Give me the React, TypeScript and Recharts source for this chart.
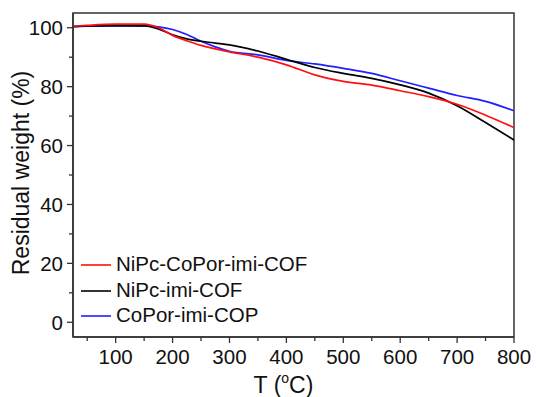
import React from 'react';
import { LineChart, Line, XAxis, YAxis, Legend, ReferenceArea, Label } from 'recharts';

const temperature = [25, 50, 100, 150, 175, 200, 225, 250, 275, 300, 350, 400, 450, 500, 550, 600, 650, 700, 750, 800];
const nipcCoporCof = [100.5, 100.8, 101.2, 101.2, 100.0, 97.4, 95.6, 94.0, 92.8, 91.8, 90.0, 87.4, 84.0, 81.8, 80.5, 78.6, 76.6, 74.0, 70.3, 66.1];
const nipcCof = [100.4, 100.6, 100.7, 100.6, 99.6, 97.6, 96.2, 95.4, 94.8, 94.2, 92.1, 89.3, 86.5, 84.5, 82.8, 80.6, 77.8, 73.5, 67.8, 61.9];
const coporCop = [100.4, 100.5, 100.6, 100.6, 100.3, 99.4, 97.7, 95.4, 93.5, 92.0, 90.8, 88.9, 87.7, 86.2, 84.5, 82.0, 79.5, 77.0, 75.0, 71.8];

const xTicks = [50, 100, 150, 200, 250, 300, 350, 400, 450, 500, 550, 600, 650, 700, 750, 800];
const yTicks = [0, 10, 20, 30, 40, 50, 60, 70, 80, 90, 100];

const series = [
  { key: 'blue', name: 'CoPor-imi-COP', color: '#1f1fff' },
  { key: 'black', name: 'NiPc-imi-COF', color: '#000000' },
  { key: 'red', name: 'NiPc-CoPor-imi-COF', color: '#ff1010' },
];
const legendOrder = ['red', 'black', 'blue'];

const data = temperature.map((t, i) => ({
  t,
  red: nipcCoporCof[i],
  black: nipcCof[i],
  blue: coporCop[i],
}));

const FONT = '"Liberation Sans", Arial, sans-serif';
const AXIS = '#333';

const XTick = (props: any) => {
  const { x, y, payload } = props;
  const major = payload.value % 100 === 0;
  return (
    <g>
      <line x1={x} y1={y} x2={x} y2={y + (major ? 6 : 4)} stroke={AXIS} strokeWidth={1.3} />
      {major && (
        <text x={x} y={y + 27} textAnchor="middle" fontSize={20.5} fontFamily={FONT} fill="#111">
          {payload.value}
        </text>
      )}
    </g>
  );
};

const YTick = (props: any) => {
  const { x, y, payload } = props;
  const major = payload.value % 20 === 0;
  return (
    <g>
      <line x1={x - (major ? 6 : 4)} y1={y} x2={x} y2={y} stroke={AXIS} strokeWidth={1.3} />
      {major && (
        <text x={x - 10} y={y + 7.4} textAnchor="end" fontSize={20.5} fontFamily={FONT} fill="#111">
          {payload.value}
        </text>
      )}
    </g>
  );
};

const XTitle = (props: any) => {
  const { x, y, width } = props.viewBox;
  return (
    <text x={x + width / 2 - 10} y={y + 56} textAnchor="middle" fontSize={23} fontFamily={FONT} fill="#111">
      <tspan>T (</tspan>
      <tspan dy={-10} fontSize={14}>o</tspan>
      <tspan dy={10}>C)</tspan>
    </text>
  );
};

const YTitle = (props: any) => {
  const { x, y, height } = props.viewBox;
  const cx = x + 8;
  const cy = y + height / 2 - 2;
  return (
    <text
      x={cx}
      y={cy}
      transform={`rotate(-90 ${cx} ${cy})`}
      textAnchor="middle"
      dominantBaseline="central"
      fontSize={23}
      fontFamily={FONT}
      fill="#111"
    >
      Residual weight (%)
    </text>
  );
};

const LegendBox = () => (
  <div style={{ fontFamily: FONT, fontSize: 20.5, color: '#111' }}>
    {legendOrder.map(k => {
      const s = series.find(v => v.key === k)!;
      return (
        <div key={k} style={{ display: 'flex', alignItems: 'center', height: 25.7, whiteSpace: 'nowrap' }}>
          <svg width={30} height={8} style={{ display: 'block' }}>
            <line x1={0} y1={5} x2={30} y2={5} stroke={s.color} strokeWidth={1.6} />
          </svg>
          <span style={{ marginLeft: 5 }}>{s.name}</span>
        </div>
      );
    })}
  </div>
);

export default function App() {
  return (
    <div style={{ width: 536, height: 397, background: '#fff' }}>
      <style>{'body{margin:0}'}</style>
      <LineChart width={536} height={397} data={data} margin={{ top: 13, right: 22, left: 13, bottom: 0 }}>
        <XAxis
          dataKey="t"
          type="number"
          domain={[25, 800]}
          ticks={xTicks}
          interval={0}
          allowDataOverflow
          height={60}
          tickSize={0}
          tickMargin={0}
          tick={<XTick />}
          axisLine={{ stroke: AXIS, strokeWidth: 1.5 }}
        >
          <Label content={<XTitle />} />
        </XAxis>
        <YAxis
          type="number"
          domain={[-5, 105]}
          ticks={yTicks}
          interval={0}
          allowDataOverflow
          width={60}
          tickSize={0}
          tickMargin={0}
          tick={<YTick />}
          axisLine={{ stroke: AXIS, strokeWidth: 1.5 }}
        >
          <Label content={<YTitle />} />
        </YAxis>
        <ReferenceArea x1={25} x2={800} y1={-5} y2={105} fill="none" stroke={AXIS} strokeWidth={1.5} fillOpacity={0} />
        {series.map(s => (
          <Line
            key={s.key}
            type="monotone"
            dataKey={s.key}
            name={s.name}
            stroke={s.color}
            strokeWidth={1.7}
            dot={false}
            activeDot={false}
            isAnimationActive={false}
          />
        ))}
        <Legend
          layout="vertical"
          align="center"
          verticalAlign="middle"
          content={<LegendBox />}
          wrapperStyle={{ left: 81, top: 251, width: 'auto', height: 'auto' }}
        />
      </LineChart>
    </div>
  );
}
